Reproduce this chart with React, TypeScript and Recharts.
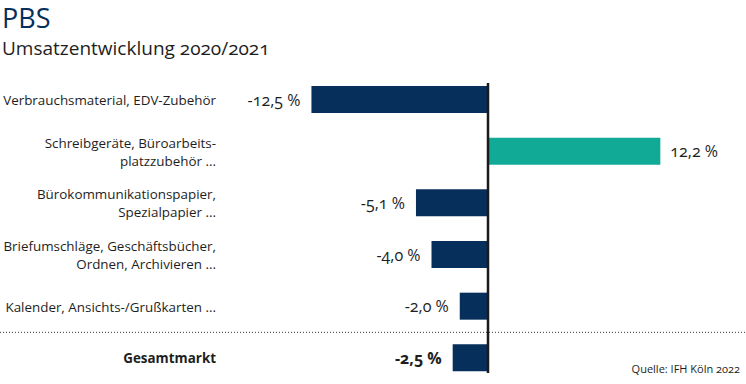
import { BarChart, Bar, XAxis, YAxis, Cell, LabelList, ReferenceLine } from "recharts";

const CATEGORIES = [
  "Verbrauchsmaterial, EDV-Zubehör",
  "Schreibgeräte, Büroarbeits-\nplatzzubehör ...",
  "Bürokommunikationspapier,\nSpezialpapier ...",
  "Briefumschläge, Geschäftsbücher,\nOrdnen, Archivieren ...",
  "Kalender, Ansichts-/Grußkarten ...",
  "Gesamtmarkt",
];
const CHANGES = [-12.5, 12.2, -5.1, -4.0, -2.0, -2.5];
const TOTAL_LABEL = "Gesamtmarkt";

const NAVY = "#062f5b";
const TEAL = "#10aa96";
const TEXT = "#1e1e1e";
const FONT = "'Open Sans', sans-serif";

const data = CATEGORIES.map((name, i) => ({ name, value: CHANGES[i] }));

function fmt(v: number): string {
  return v.toFixed(1).replace(".", ",") + " %";
}

function CategoryTick(props: any) {
  const { x, y, payload } = props;
  const lines: string[] = String(payload.value).split("\n");
  const bold = payload.value === TOTAL_LABEL;
  const lh = 18;
  const startY = y - ((lines.length - 1) * lh) / 2;
  return (
    <text
      x={x}
      y={startY}
      textAnchor="end"
      dominantBaseline="central"
      fontFamily={FONT}
      fontSize={13.4}
      fontWeight={bold ? 700 : 400}
      fill={TEXT}
    >
      {lines.map((l, i) => (
        <tspan key={i} x={x} y={startY + i * lh}>
          {l}
        </tspan>
      ))}
    </text>
  );
}

function ValueLabel(props: any) {
  const { x, y, width, height, value, index } = props;
  const left = Math.min(x, x + width);
  const right = Math.max(x, x + width);
  const neg = value < 0;
  const bold = CATEGORIES[index] === TOTAL_LABEL;
  return (
    <text
      x={neg ? left - 11 : right + 10}
      y={y + height / 2}
      textAnchor={neg ? "end" : "start"}
      dominantBaseline="central"
      fontFamily={FONT}
      fontSize={16}
      fontWeight={bold ? 700 : 400}
      fill={TEXT}
      style={{ fontVariantNumeric: "oldstyle-nums" }}
    >
      {fmt(value)}
    </text>
  );
}

export default function App() {
  return (
    <div style={{ position: "absolute", left: 0, top: 0, width: 746, height: 384, background: "#fff", fontFamily: FONT }}>
      <div style={{ position: "absolute", left: 2, top: 0, fontSize: 27, color: NAVY, lineHeight: "36px" }}>PBS</div>
      <div
        style={{
          position: "absolute",
          left: 2,
          top: 35,
          fontSize: 19,
          color: TEXT,
          lineHeight: "26px",
          fontVariantNumeric: "oldstyle-nums",
        }}
      >
        Umsatzentwicklung 2020/2021
      </div>
      <BarChart
        layout="vertical"
        width={746}
        height={384}
        data={data}
        margin={{ top: 74, right: 32, bottom: 0, left: 0 }}
        style={{ position: "absolute", left: 0, top: 0 }}
      >
        <XAxis type="number" domain={[-16, 16]} hide />
        <YAxis
          type="category"
          dataKey="name"
          width={262}
          axisLine={false}
          tickLine={false}
          tickMargin={40}
          interval={0}
          tick={<CategoryTick />}
        />
        <ReferenceLine
          y={TOTAL_LABEL}
          position="start"
          shape={(p: any) => (
            <line x1={0} y1={p.y1} x2={746} y2={p.y2} stroke="#333" strokeWidth={1} strokeDasharray="1 2" />
          )}
        />
        <Bar dataKey="value" barSize={27} isAnimationActive={false}>
          {data.map((d) => (
            <Cell key={d.name} fill={d.value >= 0 ? TEAL : NAVY} />
          ))}
          <LabelList dataKey="value" content={<ValueLabel />} />
        </Bar>
        <ReferenceLine
          x={0}
          shape={(p: any) => {
            const top = Math.min(p.y1, p.y2);
            const bottom = Math.max(p.y1, p.y2);
            return <line x1={p.x1} y1={top + 9} x2={p.x2} y2={bottom - 11} stroke="#1a1a1a" strokeWidth={2.5} />;
          }}
        />
      </BarChart>
      <div style={{ position: "absolute", right: 6, top: 361, fontSize: 11, color: TEXT, fontVariantNumeric: "oldstyle-nums" }}>
        Quelle: IFH Köln 2022
      </div>
    </div>
  );
}
